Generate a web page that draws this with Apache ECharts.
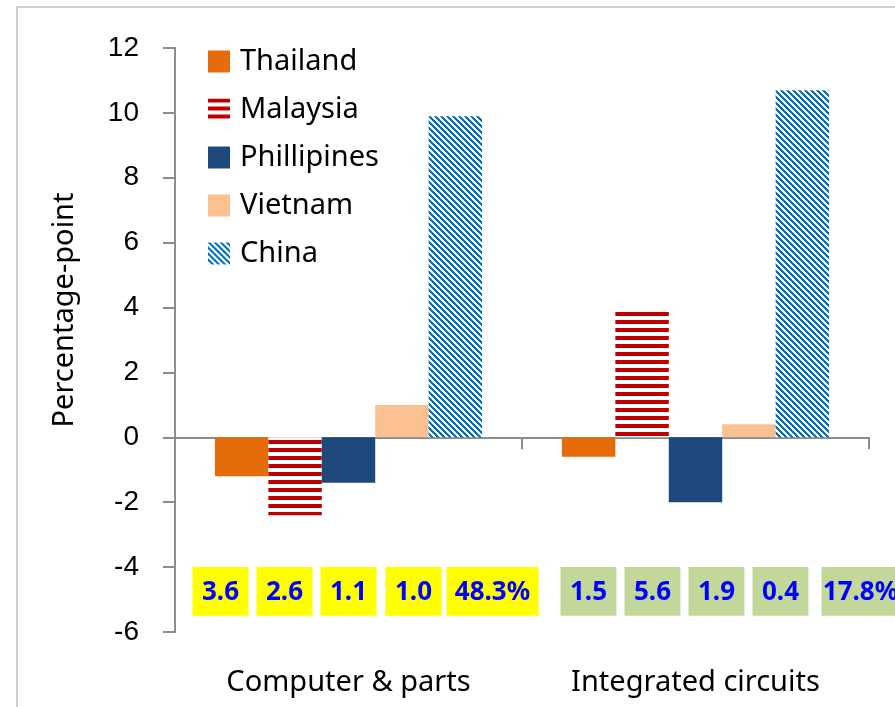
<!DOCTYPE html>
<html>
<head>
<meta charset="utf-8">
<script src="https://cdn.jsdelivr.net/npm/echarts@6/dist/echarts.min.js"></script>
<style>
  html, body { margin: 0; padding: 0; background: #fff; }
  #chart { width: 895px; height: 707px; }
</style>
</head>
<body>
<div id="chart"></div>
<script>
const categories = ['Computer & parts', 'Integrated circuits']
const countries = ['Thailand', 'Malaysia', 'Phillipines', 'Vietnam', 'China']
const thailand = [-1.2, -0.6]
const malaysia = [-2.4, 3.9]
const phillipines = [-1.4, -2.0]
const vietnam = [1.0, 0.4]
const china = [9.9, 10.7]
const shareLabels = [
  ['3.6', '2.6', '1.1', '1.0', '48.3%'],
  ['1.5', '5.6', '1.9', '0.4', '17.8%']
]

// box placement relative to each category centre (px)
const boxLeft = [[-156, -92, -28, 37, 98], [-135, -71, -7, 57, 126]]
const boxWidth = [[56, 56, 56, 56, 92], [56, 56, 56, 56, 78]]
const boxFill = ['#FFFF00', '#C4D79B']

function stripes(w, h, draw) {
  const c = document.createElement('canvas')
  c.width = w
  c.height = h
  const ctx = c.getContext('2d')
  ctx.fillStyle = '#fff'
  ctx.fillRect(0, 0, w, h)
  draw(ctx)
  return { image: c, repeat: 'repeat' }
}

const malaysiaFill = stripes(8, 8, ctx => {
  ctx.fillStyle = '#C00000'
  ctx.fillRect(0, 0, 8, 4)
})

const chinaFill = stripes(6, 6, ctx => {
  ctx.fillStyle = '#0070C0'
  for (let y = 0; y < 6; y++) {
    for (let x = 0; x < 6; x++) {
      if ((((x - y) % 6) + 6) % 6 < 3) ctx.fillRect(x, y, 1, 1)
    }
  }
})

const seriesValues = [thailand, malaysia, phillipines, vietnam, china]
const seriesColors = ['#E46C0A', malaysiaFill, '#1F497D', '#FAC090', chinaFill]

const boxData = []
shareLabels.forEach((row, ci) => row.forEach((_, si) => boxData.push([ci, si])))

const axisGray = { color: '#8C8C8C', width: 2 }

const chart = echarts.init(document.getElementById('chart'))

const option = {
  animation: false,
  graphic: [{
    type: 'rect',
    shape: { x: 17, y: 7, width: 900, height: 720 },
    style: { fill: 'none', stroke: '#BFBFBF', lineWidth: 1.5 },
    silent: true
  }],
  legend: {
    data: countries,
    orient: 'vertical',
    left: 208,
    top: 47,
    padding: 0,
    icon: 'rect',
    itemWidth: 22,
    itemHeight: 22,
    itemGap: 19,
    itemStyle: { borderWidth: 0 },
    textStyle: { fontFamily: 'Noto Sans', fontSize: 29, color: '#000', lineHeight: 29, padding: [0, 0, 0, 5] }
  },
  grid: { left: 175, right: 26, top: 48, bottom: 75, containLabel: false, outerBoundsMode: 'none' },
  xAxis: [{
    type: 'category',
    data: categories,
    axisLine: { onZero: true, lineStyle: axisGray },
    axisTick: { show: true, length: 12, lineStyle: axisGray },
    axisLabel: { show: false },
    splitLine: { show: false }
  }, {
    type: 'category',
    data: categories,
    position: 'bottom',
    axisLine: { show: false, onZero: false },
    axisTick: { show: false },
    axisLabel: { margin: 36, fontFamily: 'Noto Sans', fontSize: 29, color: '#000' },
    splitLine: { show: false }
  }],
  yAxis: {
    type: 'value',
    min: -6,
    max: 12,
    interval: 2,
    name: 'Percentage-point',
    nameLocation: 'middle',
    nameGap: 96,
    nameTextStyle: { fontFamily: 'Noto Sans', fontSize: 29, color: '#000', padding: [0, 0, 0, 60] },
    axisLine: { show: true, lineStyle: axisGray },
    axisTick: { show: true, length: 12, lineStyle: axisGray },
    axisLabel: { margin: 36, fontFamily: 'Liberation Sans', fontSize: 28, color: '#000' },
    splitLine: { show: false }
  },
  series: countries.map((name, i) => ({
    name: name,
    type: 'bar',
    data: seriesValues[i],
    barGap: '0%',
    barCategoryGap: '23%',
    itemStyle: { color: seriesColors[i] }
  })).concat([{
    type: 'custom',
    name: 'shares',
    data: boxData,
    z: 5,
    clip: false,
    renderItem: function (params, api) {
      const ci = api.value(0)
      const si = api.value(1)
      const top = api.coord([ci, -4])
      const bottom = api.coord([ci, -5.5])
      const x = top[0] + boxLeft[ci][si]
      const w = boxWidth[ci][si]
      return {
        type: 'group',
        children: [{
          type: 'rect',
          shape: { x: x, y: top[1], width: w, height: bottom[1] - top[1] },
          style: { fill: boxFill[ci] }
        }, {
          type: 'text',
          style: {
            text: shareLabels[ci][si],
            x: x + w / 2,
            y: (top[1] + bottom[1]) / 2 + 1,
            align: 'center',
            verticalAlign: 'middle',
            fill: '#0000FF',
            fontFamily: 'Noto Sans',
            fontWeight: 'bold',
            fontSize: 26
          }
        }]
      }
    }
  }])
}

chart.setOption(option)
</script>
</body>
</html>
